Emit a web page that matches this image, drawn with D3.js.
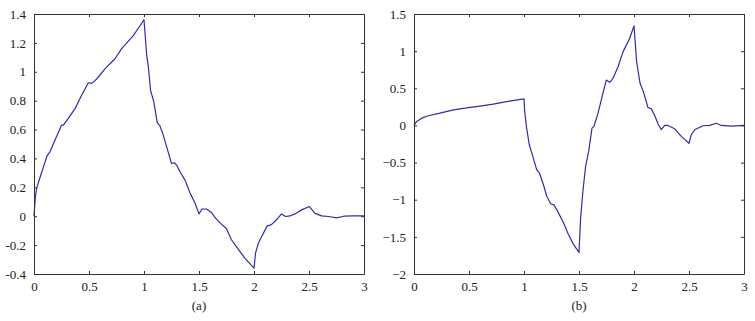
<!DOCTYPE html>
<html>
<head>
    <meta charset="UTF-8">
    <title>Response curves (a) and (b)</title>
    <script src="https://d3js.org/d3.v7.min.js"></script>
    <style>
        body { margin: 0; background: #fff; }
        text { font-family: "Liberation Serif", "DejaVu Serif", serif; fill: #222; }
    </style>
</head>
<body>
<div id="chartContainer"></div>
<script type="text/javascript">

// panel (a) curve
var timeA = [0, 0.012, 0.024, 0.055, 0.085, 0.12, 0.145, 0.19, 0.25, 0.267, 0.31, 0.373, 0.433, 0.494, 0.524, 0.57, 0.645, 0.736, 0.797, 0.903, 1.0,
             1.024, 1.04, 1.06, 1.09, 1.12, 1.145, 1.176, 1.206, 1.25, 1.276, 1.297, 1.327, 1.373, 1.418, 1.464, 1.5,
             1.527, 1.567, 1.61, 1.658, 1.704, 1.75, 1.795, 1.856, 1.916, 2.0,
             2.014, 2.04, 2.07, 2.12, 2.155, 2.19, 2.25, 2.287, 2.327, 2.372, 2.433, 2.503,
             2.555, 2.615, 2.676, 2.752, 2.816, 2.9, 3.0];
var valueA = [0, 0.13, 0.193, 0.27, 0.34, 0.42, 0.446, 0.526, 0.63, 0.63, 0.676, 0.745, 0.837, 0.924, 0.92, 0.95, 1.02, 1.09, 1.16, 1.25, 1.36,
              1.12, 1.03, 0.87, 0.79, 0.648, 0.625, 0.56, 0.48, 0.366, 0.37, 0.354, 0.308, 0.25, 0.163, 0.09, 0.016,
              0.05, 0.05, 0.028, -0.02, -0.055, -0.087, -0.163, -0.228, -0.29, -0.359,
              -0.255, -0.186, -0.14, -0.067, -0.06, -0.037, 0.016, -0.002, 0.002, 0.016, 0.044, 0.067,
              0.02, 0.002, -0.002, -0.011, 0, 0.002, 0.002];

// panel (b) curve
var timeB = [0, 0.024, 0.07, 0.13, 0.236, 0.358, 0.464, 0.494, 0.6, 0.72, 0.842, 1.0,
             1.006, 1.024, 1.048, 1.085, 1.115, 1.14, 1.176, 1.206, 1.242, 1.273, 1.312, 1.358, 1.403, 1.448, 1.5,
             1.515, 1.536, 1.56, 1.588, 1.618, 1.636, 1.673, 1.71, 1.748, 1.779, 1.809, 1.855, 1.9, 1.96, 2.0,
             2.024, 2.055, 2.085, 2.127, 2.158, 2.188, 2.218, 2.248, 2.279, 2.309, 2.37, 2.43, 2.5,
             2.521, 2.552, 2.627, 2.688, 2.748, 2.794, 2.885, 3.0];
var valueB = [0, 0.054, 0.098, 0.13, 0.165, 0.21, 0.232, 0.24, 0.26, 0.286, 0.32, 0.357,
              0.19, -0.036, -0.26, -0.44, -0.594, -0.64, -0.795, -0.95, -1.054, -1.07, -1.174, -1.308, -1.464, -1.598, -1.71,
              -1.24, -0.88, -0.55, -0.35, -0.036, -0.013, 0.165, 0.388, 0.61, 0.58, 0.634, 0.79, 0.99, 1.17, 1.34,
              0.857, 0.567, 0.455, 0.241, 0.223, 0.134, 0.022, -0.058, 0, 0, -0.045, -0.147, -0.24,
              -0.125, -0.058, -0.004, 0, 0.03, 0, -0.009, 0];

// ticks
var xTicks = [0, 0.5, 1, 1.5, 2, 2.5, 3];
var xTickLabels = ["0", "0.5", "1", "1.5", "2", "2.5", "3"];
var yTicksA = [-0.4, -0.2, 0, 0.2, 0.4, 0.6, 0.8, 1, 1.2, 1.4];
var yTickLabelsA = ["-0.4", "-0.2", "0", "0.2", "0.4", "0.6", "0.8", "1", "1.2", "1.4"];
var yTicksB = [-2, -1.5, -1, -0.5, 0, 0.5, 1, 1.5];
var yTickLabelsB = ["\u22122", "\u22121.5", "\u22121", "\u22120.5", "0", "0.5", "1", "1.5"];

var panels = [
    { left: 34, t: timeA, v: valueA, yTicks: yTicksA, yLabels: yTickLabelsA, yDomain: [-0.4, 1.4], caption: "(a)" },
    { left: 414, t: timeB, v: valueB, yTicks: yTicksB, yLabels: yTickLabelsB, yDomain: [-2, 1.5], caption: "(b)" }
];

var W = 755, H = 321;
var plotTop = 14, plotBottom = 274, plotW = 330;
var tickLen = 3;

var svg = d3.select("#chartContainer").append("svg")
    .attr("width", W).attr("height", H);

panels.forEach(function (p) {
    var x = d3.scaleLinear().domain([0, 3]).range([p.left, p.left + plotW]);
    var y = d3.scaleLinear().domain(p.yDomain).range([plotBottom, plotTop]);
    var g = svg.append("g");

    //curve
    var line = d3.line()
        .x(function (d) { return x(d[0]); })
        .y(function (d) { return y(d[1]); });
    g.append("path")
        .datum(d3.zip(p.t, p.v))
        .attr("d", line)
        .attr("fill", "none")
        .attr("stroke", "#2e2eaa")
        .attr("stroke-width", 1.2)
        .attr("stroke-linejoin", "round");

    //box axes, ticks pointing inward on all four sides
    var bottomAxis = d3.axisBottom(x).tickValues(xTicks)
        .tickSizeInner(-tickLen).tickSizeOuter(0).tickPadding(8)
        .tickFormat(function (d, i) { return xTickLabels[i]; });
    var topAxis = d3.axisTop(x).tickValues(xTicks)
        .tickSizeInner(-tickLen).tickSizeOuter(0).tickFormat("");
    var leftAxis = d3.axisLeft(y).tickValues(p.yTicks)
        .tickSizeInner(-tickLen).tickSizeOuter(0).tickPadding(8)
        .tickFormat(function (d, i) { return p.yLabels[i]; });
    var rightAxis = d3.axisRight(y).tickValues(p.yTicks)
        .tickSizeInner(-tickLen).tickSizeOuter(0).tickFormat("");

    [[bottomAxis, "translate(0," + plotBottom + ")"],
     [topAxis, "translate(0," + plotTop + ")"],
     [leftAxis, "translate(" + p.left + ",0)"],
     [rightAxis, "translate(" + (p.left + plotW) + ",0)"]].forEach(function (a) {
        var ag = g.append("g").attr("transform", a[1]).call(a[0]);
        ag.attr("font-family", null);
        ag.select(".domain").attr("stroke", "#333").attr("stroke-width", 1);
        ag.selectAll(".tick line").attr("stroke", "#333");
        ag.selectAll("text")
            .style("font-family", "'Liberation Serif', serif")
            .style("font-size", "13px")
            .attr("fill", "#222");
    });

    //caption under the panel
    g.append("text")
        .attr("x", p.left + plotW / 2)
        .attr("y", 310)
        .attr("text-anchor", "middle")
        .style("font-size", "13px")
        .text(p.caption);
});

</script>
</body>
</html>
